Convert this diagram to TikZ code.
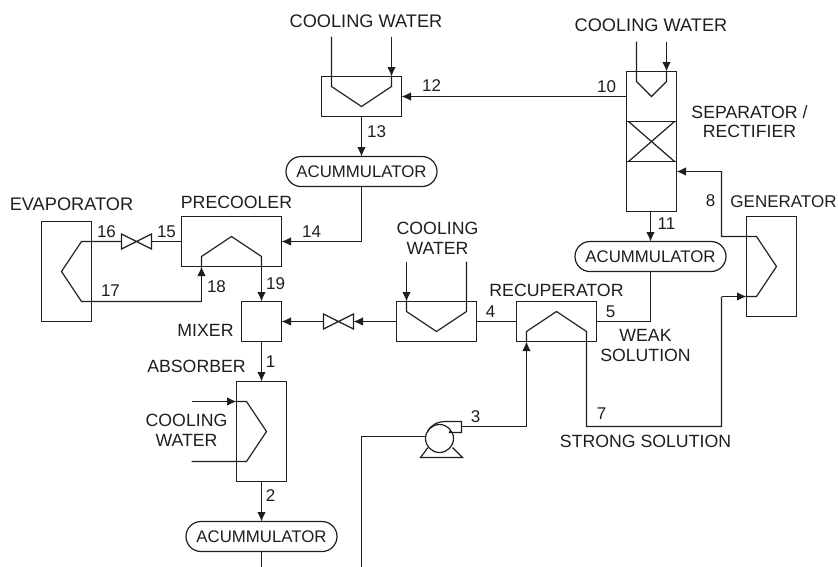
\documentclass[tikz,border=0pt]{standalone}
\usepackage{fontspec}
\setmainfont{Liberation Sans}
\usetikzlibrary{arrows.meta,shapes.misc}
\definecolor{ink}{HTML}{1E1E1E}
\tikzset{
  x=1pt,y=-1pt,
  every node/.style={inner sep=0pt,outer sep=0pt,text=ink},
  pipe/.style={draw=ink,line width=1.2pt,line join=miter},
  flow/.style={pipe,-{Latex[length=9.5pt,width=8.5pt]}},
  vessel/.style={draw=ink,line width=1.2pt,rectangle,anchor=north west},
  acc/.style={draw=ink,line width=1.2pt,rounded rectangle,minimum width=151pt,minimum height=30pt,font=\fontsize{16.8}{20}\selectfont},
  valvebox/.style={minimum width=30pt,minimum height=15pt},
  lab/.style={font=\fontsize{17.7}{20}\selectfont,align=center},
  wide/.style={font=\fontsize{18.2}{20}\selectfont,align=center},
  num/.style={font=\fontsize{17}{20}\selectfont},
}
\begin{document}
\begin{tikzpicture}
\useasboundingbox (-0.5,-0.5) rectangle (837.5,565.5);
% vessels
\node[vessel,minimum width=80pt,minimum height=40pt] (cond) at (321,76) {};
\node[vessel,minimum width=50pt,minimum height=140pt] (sep) at (626,71) {};
\node[vessel,minimum width=100pt,minimum height=50pt] (pre) at (181,216) {};
\node[vessel,minimum width=50pt,minimum height=100pt] (evap) at (41,221) {};
\node[vessel,minimum width=50pt,minimum height=100pt] (gen) at (746,216) {};
\node[vessel,minimum width=80pt,minimum height=40pt] (cool) at (396,301) {};
\node[vessel,minimum width=80pt,minimum height=40pt] (rec) at (516,301) {};
\node[vessel,minimum width=40pt,minimum height=40pt] (mix) at (241,301) {};
\node[vessel,minimum width=50pt,minimum height=100pt] (abs) at (236,381) {};
\node[acc] (accA) at (361,171) {ACUMMULATOR};
\node[acc] (accB) at (650,256) {ACUMMULATOR};
\node[acc] (accC) at (261,536) {ACUMMULATOR};
\node[valvebox] (vA) at (136,241) {};
\node[valvebox] (vB) at (338,321) {};
\draw[pipe] (vA.north west)--(vA.south east)--(vA.north east)--(vA.south west)--cycle;
\draw[pipe] (vB.north west)--(vB.south east)--(vB.north east)--(vB.south west)--cycle;
% packing
\node[minimum width=46pt,minimum height=40pt] (pack) at (651,141) {};
\draw[pipe] (sep.west |- pack.north) -- (sep.east |- pack.north);
\draw[pipe] (sep.west |- pack.south) -- (sep.east |- pack.south);
\draw[pipe] (pack.north west)--(pack.south east);
\draw[pipe] (pack.north east)--(pack.south west);
% pump
\node[circle,minimum size=28pt] (pump) at (439,438) {};
\draw[pipe] (pump) circle[radius=14pt];
\coordinate (pumpO) at (461,426);
\draw[pipe] (427,431) .. controls (431,424) and (437,421) .. (446,421) -- (461,421) -- (461,432) -- (449,432) -- (450,430);
\draw[pipe] (427.5,447) -- (420,457) -- (462,457) -- (452,447);
% cooling-water coils
\coordinate (cA1) at (331,36); \coordinate (cA2) at (391,36);
\draw[pipe] (cA1) -- (331,86) -- (361,106) -- (391,86) -- (391,76);
\draw[flow] (cA2) -- (391,76);
\coordinate (cB1) at (636,41); \coordinate (cB2) at (666,41);
\draw[pipe] (cB1) -- (636,81) -- (651,96) -- (666,81) -- (666,71);
\draw[flow] (cB2) -- (666,71);
\coordinate (cC1) at (406,261); \coordinate (cC2) at (466,261);
\draw[pipe] (cC2) -- (466,311) -- (436,331) -- (406,311) -- (406,301);
\draw[flow] (cC1) -- (406,301);
\coordinate (cD1) at (191,401); \coordinate (cD2) at (191,461);
\draw[pipe] (236,401) -- (246,401) -- (266,431) -- (246,461) -- (cD2);
\draw[flow] (cD1) -- (236,401);
% process lines
\draw[flow] (sep.west |- 0,96) -- (cond.east |- 0,96);
\draw[flow] (cond.south -| accA) -- (accA.north);
\draw[pipe] (accA.south) -- (361,241);
\draw[flow] (361,241) -- (pre.east |- 0,241);
\draw[pipe] (pre.west |- 0,241) -- (vA.east);
\draw[pipe] (vA.west) -- (81,241) -- (61,271) -- (81,301) -- (201,301);
\draw[flow] (201,301) -- (201,266);
\draw[pipe] (201,266) -- (201,256) -- (231,236) -- (261,256) -- (261,266);
\draw[flow] (261,266) -- (mix.north);
\draw[flow] (mix.south) -- (abs.north);
\draw[flow] (abs.south) -- (accC.north);
\coordinate (bot) at (261,566);
\draw[pipe] (accC.south) -- (bot);
\coordinate (botB) at (361,566);
\draw[pipe] (botB) -- (361,436) -- (pump.west |- 0,436);
\draw[pipe] (pumpO) -- (526,426);
\draw[flow] (526,426) -- (526,341);
\draw[pipe] (526,341) -- (526,331) -- (556,311) -- (586,331) -- (586,426) -- (721,426) -- (721,296);
\draw[flow] (721,296) -- (746,296);
\draw[pipe] (746,296) -- (756,296) -- (776,266) -- (756,236) -- (721,236) -- (721,171);
\draw[flow] (721,171) -- (sep.east |- 0,171);
\draw[flow] (sep.south -| accB) -- (accB.north);
\draw[pipe] (accB.south) -- (650,321) -- (rec.east |- 0,321);
\draw[pipe] (rec.west |- 0,321) -- (cool.east |- 0,321);
\draw[flow] (cool.west |- 0,321) -- (vB.east);
\draw[flow] (vB.west) -- (mix.east |- 0,321);
% labels
\node[wide] (t1) at (365.5,21) {COOLING WATER};
\node[wide] (t2) at (650.5,25) {COOLING WATER};
\node[lab] (t3) at (749,121) {SEPARATOR /\\[-0.5pt]RECTIFIER};
\node[num] (t4) at (783,201) {GENERATOR};
\node[wide] (t5) at (71,204) {EVAPORATOR};
\node[lab] (t6) at (236,202) {PRECOOLER};
\node[lab] (t7) at (437,238) {COOLING\\[-0.5pt]WATER};
\node[lab] (t8) at (556,290) {RECUPERATOR};
\node[lab] (t9) at (645,345) {WEAK\\[-0.5pt]SOLUTION};
\node[lab] (t10) at (645,441) {STRONG SOLUTION};
\node[lab] (t11) at (205,330) {MIXER};
\node[lab] (t12) at (196,366) {ABSORBER};
\node[lab] (t13) at (186,430) {COOLING\\[-0.5pt]WATER};
\node[num] (n1) at (270,361) {1};
\node[num] (n2) at (270,495) {2};
\node[num] (n3) at (475,416) {3};
\node[num] (n4) at (490,311) {4};
\node[num] (n5) at (610,311) {5};
\node[num] (n7) at (601,413) {7};
\node[num] (n8) at (710,200) {8};
\node[num] (n10) at (606,86) {10};
\node[num] (n11) at (666,223) {11};
\node[num] (n12) at (431,85) {12};
\node[num] (n13) at (376,131) {13};
\node[num] (n14) at (311,231) {14};
\node[num] (n15) at (166,231) {15};
\node[num] (n16) at (106,231) {16};
\node[num] (n17) at (110,290) {17};
\node[num] (n18) at (216,286) {18};
\node[num] (n19) at (275,283) {19};
\end{tikzpicture}
\end{document}
